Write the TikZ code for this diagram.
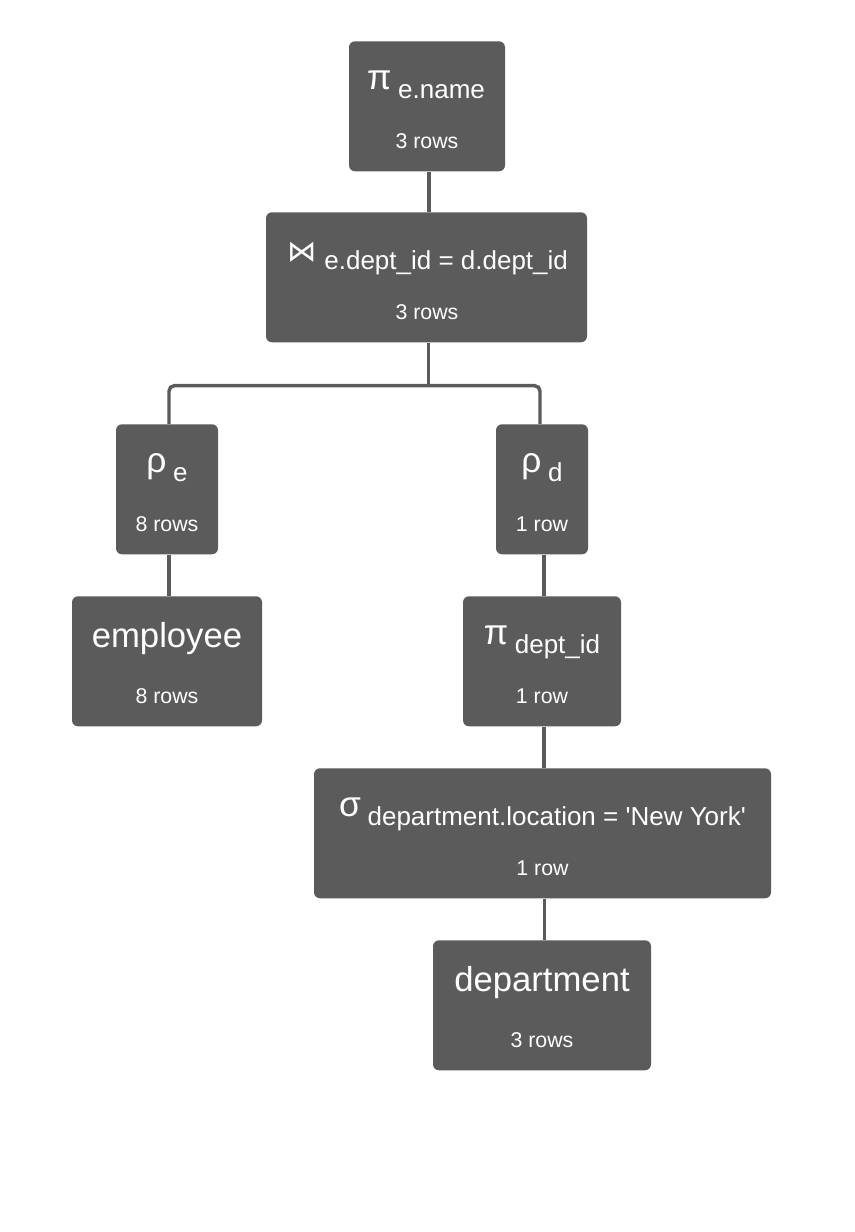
\documentclass[tikz,border=0pt]{standalone}
\usepackage{fontspec}
\setmainfont{Liberation Sans}
\newfontfamily\djv{DejaVu Sans}
\definecolor{boxgray}{HTML}{5B5B5B}
\newcommand\symsz{\fontsize{26.5}{26}\selectfont}
\newcommand\subsz{\fontsize{19.5}{20}\selectfont}
\newcommand\rowsz{\fontsize{16}{16}\selectfont}
\newcommand\tabsz{\fontsize{26}{26}\selectfont}
\newcommand\oplabel[2]{\raisebox{6.75pt}{\symsz #1}\hspace{5pt}{\subsz #2}}
\begin{document}
\begin{tikzpicture}[x=0.75pt,y=-0.75pt,
  box/.style={fill=boxgray, rounded corners=4.5pt, inner sep=0pt, minimum height=97.5pt, anchor=north},
  conn/.style={draw=boxgray, line width=2.6pt},
  lbl/.style={text=white, anchor=base, inner sep=0pt},
]
\useasboundingbox (0,0) rectangle (854,1232);
% boxes
\node[box, minimum width=117pt]    (p1)  at (427,41)   {};
\node[box, minimum width=240.75pt] (j)   at (426.5,212) {};
\node[box, minimum width=76.5pt]   (re)  at (167,424)  {};
\node[box, minimum width=69pt]     (rd)  at (542,424)  {};
\node[box, minimum width=142.5pt]  (emp) at (167,596)  {};
\node[box, minimum width=118.5pt]  (pd)  at (542,596)  {};
\node[box, minimum width=342.75pt] (sg)  at (542.5,768) {};
\node[box, minimum width=163.5pt]  (dep) at (542,940)  {};
% labels
\node[lbl] (p1a) at (426,98)  {\oplabel{π}{e.name}};
\node[lbl] (p1b) at (427,148) {\rowsz 3 rows};
\node[lbl] (ja)  at (427.5,269) {\raisebox{6pt}{\djv\fontsize{22}{22}\selectfont ⋈}\hspace{6pt}{\subsz e.dept\_id = d.dept\_id}};
\node[lbl] (jb)  at (427,319) {\rowsz 3 rows};
\node[lbl] (rea) at (167,481) {\oplabel{ρ}{e}};
\node[lbl] (reb) at (167,531) {\rowsz 8 rows};
\node[lbl] (rda) at (542,481) {\oplabel{ρ}{d}};
\node[lbl] (rdb) at (542,531) {\rowsz 1 row};
\node[lbl] (empa) at (167,647) {\tabsz employee};
\node[lbl] (empb) at (167,703) {\rowsz 8 rows};
\node[lbl] (pda) at (542,653) {\oplabel{π}{dept\_id}};
\node[lbl] (pdb) at (542,703) {\rowsz 1 row};
\node[lbl] (sga) at (542.5,825) {\oplabel{σ}{department.location = \textquotesingle New York\textquotesingle}};
\node[lbl] (sgb) at (542.5,875) {\rowsz 1 row};
\node[lbl] (depa) at (542,991) {\tabsz department};
\node[lbl] (depb) at (542,1047) {\rowsz 3 rows};
% connectors
\coordinate (jmid) at ([xshift=1.5pt]j.south |- 0,385.7);
\draw[conn] ([xshift=1.5pt]p1.south) -- ([xshift=1.5pt]p1.south |- j.north);
\draw[conn] ([xshift=1.5pt]j.south) -- (jmid);
\draw[conn, rounded corners=4pt] ([xshift=1.5pt]re.north) |- (jmid) -| ([xshift=-1.5pt]rd.north);
\draw[conn] ([xshift=1.5pt]re.south) -- ([xshift=1.5pt]re.south |- emp.north);
\draw[conn] ([xshift=1.5pt]rd.south) -- ([xshift=1.5pt]rd.south |- pd.north);
\draw[conn] ([xshift=1.5pt]pd.south) -- ([xshift=1.5pt]pd.south |- sg.north);
\draw[conn] ([xshift=1.5pt]sg.south) -- ([xshift=1.5pt]sg.south |- dep.north);
\end{tikzpicture}
\end{document}
